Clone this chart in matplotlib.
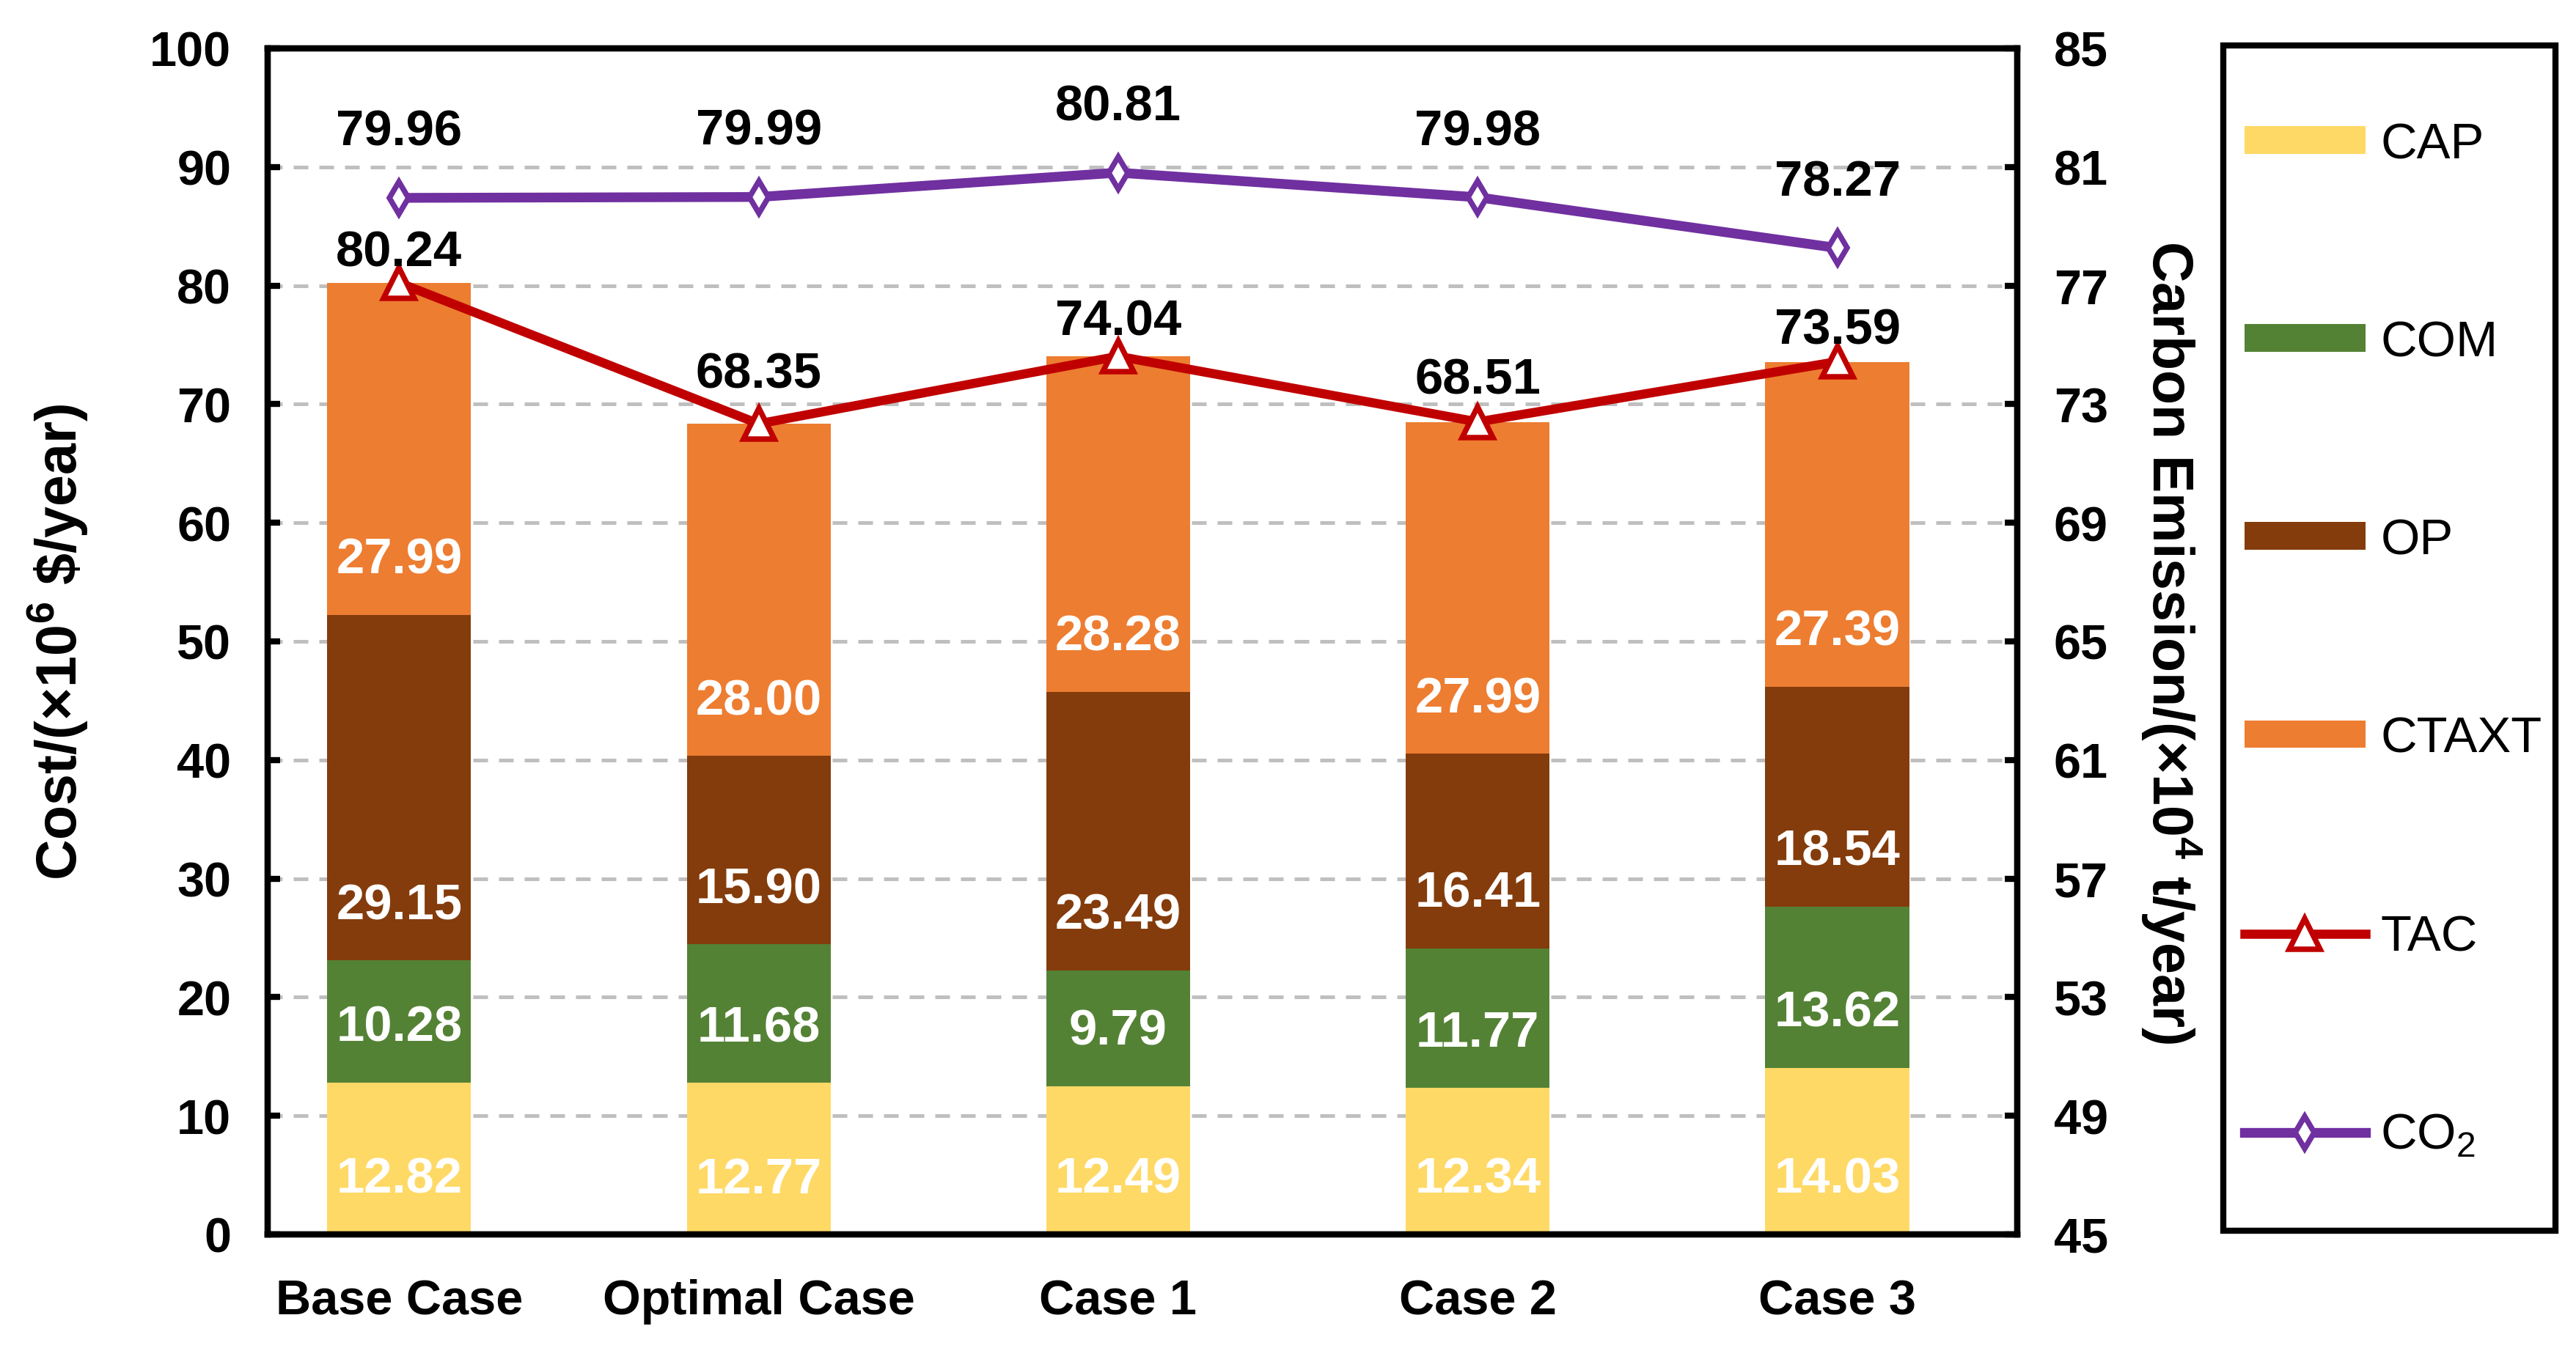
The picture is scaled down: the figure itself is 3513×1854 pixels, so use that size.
import matplotlib
matplotlib.use('Agg')
import matplotlib.pyplot as plt
from matplotlib.patches import Rectangle

plt.rcParams['font.family'] = ['Liberation Sans', 'DejaVu Sans']
plt.rcParams['mathtext.fontset'] = 'custom'
plt.rcParams['mathtext.rm'] = 'Liberation Sans'
plt.rcParams['mathtext.bf'] = 'Liberation Sans:bold'

cases = ['Base Case', 'Optimal Case', 'Case 1', 'Case 2', 'Case 3']
cap = [12.82, 12.77, 12.49, 12.34, 14.03]
com = [10.28, 11.68, 9.79, 11.77, 13.62]
op = [29.15, 15.90, 23.49, 16.41, 18.54]
ctaxt = [27.99, 28.00, 28.28, 27.99, 27.39]
tac = [80.24, 68.35, 74.04, 68.51, 73.59]
co2 = [79.96, 79.99, 80.81, 79.98, 78.27]

cores = {'CAP': '#FFD966', 'COM': '#548235', 'OP': '#843C0C', 'CTAXT': '#ED7D31'}
tac_off = [10.0, 16.2, 11.4, 13.6, 10.3]  # label offsets above TAC points (pt)

fig = plt.figure(figsize=(11.71, 6.183), dpi=300)
ax = fig.add_axes([0.104, 0.0916, 0.679, 0.8723])
ax2 = ax.twinx()

x = list(range(len(cases)))
bottom = [0] * len(cases)
handles = []
for nome, vals in [('CAP', cap), ('COM', com), ('OP', op), ('CTAXT', ctaxt)]:
    b = ax.bar(x, vals, 0.4, bottom=bottom, color=cores[nome], label=nome, zorder=2)
    handles.append(b)
    for i, v in enumerate(vals):
        ax.annotate(f'{v:.2f}', (i, bottom[i]), xytext=(0, 18), textcoords='offset points',
                    ha='center', va='center', color='white', fontsize=16.5, fontweight='bold', zorder=4)
    bottom = [bb + v for bb, v in zip(bottom, vals)]

l1, = ax.plot(x, tac, color='#C00000', lw=3.0, marker='^', ms=10, mfc='white', mec='#C00000',
              mew=1.8, label='TAC', zorder=3)
for i, v in enumerate(tac):
    ax.annotate(f'{v:.2f}', (i, v), xytext=(0, tac_off[i]), textcoords='offset points',
                ha='center', va='center', fontsize=16.5, fontweight='bold')

l2, = ax2.plot(x, co2, color='#7030A0', lw=3.2, marker='d', ms=7.5, mfc='white', mec='#7030A0',
               mew=1.8, label='CO$_2$', zorder=3)
for i, v in enumerate(co2):
    ax2.annotate(f'{v:.2f}', (i, v), xytext=(0, 21.6), textcoords='offset points',
                 ha='center', va='center', fontsize=16.5, fontweight='bold')

ax.set_xlim(-0.365, 4.5)
ax.set_ylim(0, 100)
ax.set_yticks(range(0, 101, 10))
ax2.set_ylim(45, 85)
ax2.set_yticks(range(45, 86, 4))
ax.set_xticks(x)
ax.set_xticklabels(cases, fontsize=16, fontweight='bold')
ax.tick_params(axis='x', length=0, pad=14.5)
ax.tick_params(axis='y', direction='in', length=4, width=2, labelsize=16, pad=12)
ax2.tick_params(axis='y', direction='in', length=4, width=2, labelsize=16, pad=12)
for lab in ax.get_yticklabels() + ax2.get_yticklabels():
    lab.set_fontweight('bold')

ax.yaxis.grid(True, ls=(0, (4, 3)), color='#BFBFBF', lw=1.2)
ax.set_axisbelow(True)
for a in (ax, ax2):
    for s in a.spines.values():
        s.set_linewidth(2)
        s.set_color('black')

ax.set_ylabel('Cost/(×10$^{\\mathbf{6}}$ \\$/year)', fontsize=18.5, fontweight='bold')
ax.yaxis.set_label_coords(-0.120, 0.5)
ax.yaxis.label.set_va('center')
ax2.set_ylabel('Carbon Emission/(×10$^{\\mathbf{4}}$ t/year)', fontsize=18.5, fontweight='bold', rotation=-90)
ax2.yaxis.set_label_coords(1.088, 0.5)
ax2.yaxis.label.set_va('center')

fig.patches.append(Rectangle((0.863, 0.0943), 0.129, 0.8717, transform=fig.transFigure,
                             fill=False, ec='black', lw=2))
fig.legend(handles + [l1, l2], ['CAP', 'COM', 'OP', 'CTAXT', 'TAC', 'CO$_2$'],
           loc='center', bbox_to_anchor=(0.929, 0.529), frameon=False, fontsize=16.5,
           labelspacing=3.0, handlelength=2.4, handleheight=0.47, handletextpad=0.3, numpoints=1)

fig.savefig('out.png', dpi=300)
